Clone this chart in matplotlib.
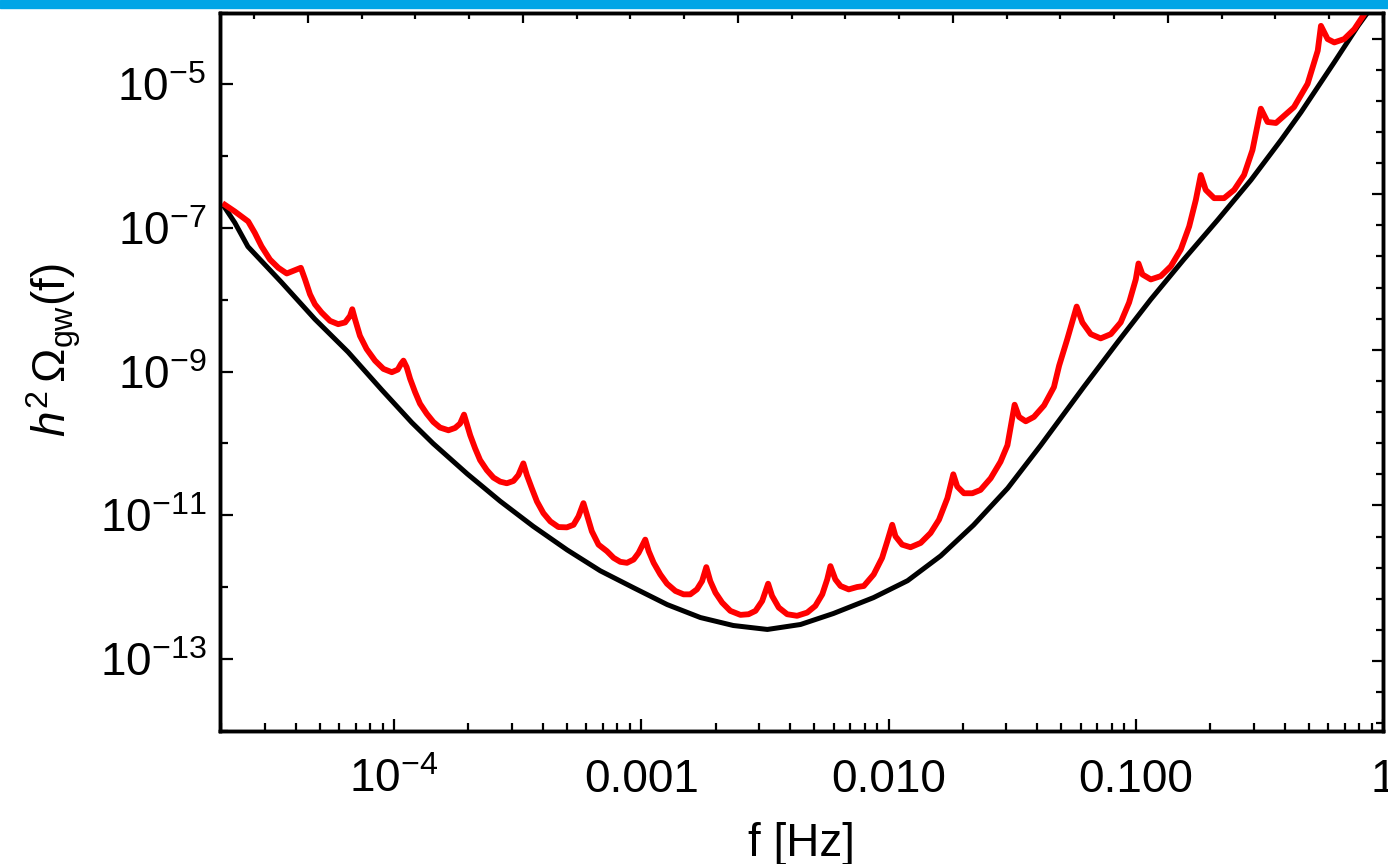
import numpy as np
import matplotlib
matplotlib.use('Agg')
import matplotlib.pyplot as plt
from matplotlib.patches import Rectangle
from matplotlib.ticker import FixedLocator, LogLocator, MultipleLocator, NullFormatter

plt.rcParams['font.family'] = ['Liberation Sans', 'DejaVu Sans']
plt.rcParams['mathtext.fontset'] = 'custom'
plt.rcParams['mathtext.rm'] = 'Liberation Sans'
plt.rcParams['mathtext.it'] = 'Liberation Sans:italic'
plt.rcParams['mathtext.bf'] = 'Liberation Sans:bold'

# smooth envelope (black): log10 f [Hz] and log10 h^2 Omega_gw
black_logf = [-4.684, -4.644, -4.591, -4.455, -4.320, -4.186, -4.050, -3.928, -3.842, -3.704,
              -3.571, -3.437, -3.300, -3.166, -3.032, -2.895, -2.761, -2.628, -2.490, -2.356,
              -2.223, -2.061, -1.923, -1.789, -1.656, -1.518, -1.385, -1.210, -1.073, -0.939,
              -0.806, -0.668, -0.534, -0.413, -0.332, -0.198, -0.101, -0.040]
black_logomega = [-6.717, -6.925, -7.258, -7.756, -8.269, -8.726, -9.252, -9.709, -10.000, -10.423,
                  -10.803, -11.154, -11.482, -11.773, -12.008, -12.244, -12.424, -12.535, -12.590, -12.521,
                  -12.368, -12.147, -11.911, -11.565, -11.136, -10.623, -10.028, -9.211, -8.587, -7.992,
                  -7.438, -6.884, -6.330, -5.776, -5.388, -4.695, -4.183, -3.892]

# spectrum with cusps (red)
red_logf = [-4.684, -4.644, -4.590, -4.563, -4.536, -4.502, -4.468, -4.434, -4.401, -4.377,
            -4.360, -4.340, -4.320, -4.293, -4.259, -4.226, -4.198, -4.178, -4.169, -4.158,
            -4.138, -4.111, -4.077, -4.043, -4.009, -3.985, -3.972, -3.962, -3.949, -3.935,
            -3.915, -3.895, -3.868, -3.841, -3.814, -3.780, -3.753, -3.733, -3.717, -3.706,
            -3.692, -3.672, -3.652, -3.625, -3.598, -3.571, -3.544, -3.517, -3.497, -3.477,
            -3.463, -3.443, -3.422, -3.396, -3.368, -3.335, -3.301, -3.274, -3.254, -3.234,
            -3.220, -3.200, -3.173, -3.139, -3.112, -3.085, -3.058, -3.031, -3.011, -2.984,
            -2.970, -2.950, -2.923, -2.896, -2.862, -2.829, -2.802, -2.775, -2.754, -2.737,
            -2.721, -2.700, -2.673, -2.640, -2.599, -2.566, -2.538, -2.511, -2.487, -2.471,
            -2.444, -2.410, -2.370, -2.329, -2.296, -2.268, -2.248, -2.235, -2.215, -2.194,
            -2.161, -2.127, -2.100, -2.060, -2.026, -2.005, -1.985, -1.972, -1.945, -1.911,
            -1.870, -1.830, -1.796, -1.762, -1.738, -1.722, -1.695, -1.661, -1.628, -1.587,
            -1.547, -1.519, -1.490, -1.472, -1.445, -1.412, -1.371, -1.331, -1.310, -1.277,
            -1.239, -1.216, -1.182, -1.142, -1.101, -1.061, -1.027, -1.000, -0.989, -0.973,
            -0.939, -0.899, -0.858, -0.818, -0.784, -0.757, -0.737, -0.717, -0.683, -0.643,
            -0.602, -0.562, -0.528, -0.494, -0.467, -0.433, -0.413, -0.360, -0.305, -0.264,
            -0.251, -0.224, -0.197, -0.157, -0.116, -0.076, -0.049]
red_logomega = [-6.676, -6.769, -6.907, -7.068, -7.254, -7.438, -7.553, -7.632, -7.586, -7.553,
                -7.715, -7.922, -8.061, -8.176, -8.292, -8.338, -8.314, -8.223, -8.130, -8.269,
                -8.500, -8.684, -8.846, -8.961, -9.007, -8.971, -8.892, -8.846, -8.938, -9.100,
                -9.284, -9.446, -9.585, -9.700, -9.778, -9.816, -9.783, -9.723, -9.598, -9.723,
                -9.885, -10.069, -10.231, -10.370, -10.475, -10.531, -10.554, -10.522, -10.439, -10.277,
                -10.439, -10.623, -10.808, -10.970, -11.085, -11.164, -11.168, -11.132, -11.015, -10.831,
                -10.993, -11.223, -11.409, -11.500, -11.593, -11.648, -11.662, -11.616, -11.524, -11.339,
                -11.500, -11.662, -11.824, -11.953, -12.054, -12.101, -12.101, -12.032, -11.916, -11.722,
                -11.916, -12.078, -12.216, -12.331, -12.387, -12.378, -12.331, -12.193, -11.953, -12.123,
                -12.285, -12.378, -12.400, -12.355, -12.262, -12.101, -11.893, -11.708, -11.893, -11.985,
                -12.032, -11.999, -11.985, -11.824, -11.593, -11.362, -11.132, -11.292, -11.409, -11.445,
                -11.385, -11.247, -11.062, -10.762, -10.429, -10.600, -10.693, -10.693, -10.647, -10.485,
                -10.254, -10.024, -9.460, -9.630, -9.691, -9.630, -9.470, -9.215, -8.916, -8.546,
                -8.093, -8.314, -8.477, -8.536, -8.477, -8.314, -8.037, -7.715, -7.493, -7.646,
                -7.715, -7.669, -7.531, -7.299, -6.977, -6.607, -6.260, -6.468, -6.583, -6.583,
                -6.468, -6.260, -5.914, -5.337, -5.522, -5.536, -5.475, -5.314, -4.990, -4.529,
                -4.183, -4.367, -4.414, -4.367, -4.229, -4.021, -3.837]

x_ticks = [1e-4, 1e-3, 1e-2, 1e-1, 1.0]
x_ticklabels = [r'$10^{-4}$', '0.001', '0.010', '0.100', '1']
y_ticks = [1e-13, 1e-11, 1e-9, 1e-7, 1e-5]
y_ticklabels = [r'$10^{-13}$', r'$10^{-11}$', r'$10^{-9}$', r'$10^{-7}$', r'$10^{-5}$']
y_minor = [1e-14, 1e-12, 1e-10, 1e-8, 1e-6, 1e-4]

fig = plt.figure(figsize=(13.88, 8.64), dpi=100)
fig.patches.append(Rectangle((0, 1 - 8 / 864), 1, 8 / 864, transform=fig.transFigure,
                             color='#00a5e6', zorder=0))
ax = fig.add_axes([0.1585, 0.1543, 0.8379, 0.8310])

ax.plot(10 ** np.array(black_logf), 10 ** np.array(black_logomega), color='black', lw=3.6,
        zorder=2, solid_joinstyle='round')
ax.plot(10 ** np.array(red_logf), 10 ** np.array(red_logomega), color='#ff0000', lw=4.2,
        zorder=3, solid_joinstyle='round')

ax.set_xscale('log')
ax.set_yscale('log')
ax.set_xlim(10 ** -4.704, 1.0)
ax.set_ylim(1e-14, 1e-4)

ax.set_xticks(x_ticks)
ax.set_xticklabels(x_ticklabels)
ax.xaxis.set_minor_locator(LogLocator(base=10, subs=np.arange(2, 10)))
ax.xaxis.set_minor_formatter(NullFormatter())
ax.set_yticks(y_ticks)
ax.set_yticklabels(y_ticklabels)
ax.yaxis.set_minor_locator(FixedLocator(y_minor))
ax.yaxis.set_minor_formatter(NullFormatter())

ax.tick_params(which='both', direction='in', top=False, right=False, width=1.6, labelsize=33)
ax.tick_params(which='major', length=9)
ax.tick_params(which='minor', length=5.5)
ax.tick_params(axis='x', pad=20)
ax.tick_params(axis='y', pad=10)

for s in ax.spines.values():
    s.set_linewidth(2.4)

ax.set_xlabel('f [Hz]', fontsize=33, labelpad=14)
ax.set_ylabel(r'$h^2\,\Omega_{\mathrm{gw}}\mathrm{(f)}$', fontsize=33)
ax.yaxis.set_label_coords(-0.118, 0.53)

# unlabeled frame ticks on top and right
axt = ax.twiny()
axt.set_xlim(-0.409, 5.0)
axt.xaxis.set_major_locator(MultipleLocator(1))
axt.xaxis.set_minor_locator(MultipleLocator(0.25))
axt.tick_params(which='both', direction='in', labeltop=False, width=1.6)
axt.tick_params(which='major', length=7)
axt.tick_params(which='minor', length=4)
axr = ax.twinx()
axr.set_ylim(-0.448, 4.167)
axr.yaxis.set_major_locator(MultipleLocator(1))
axr.yaxis.set_minor_locator(MultipleLocator(0.2))
axr.tick_params(which='both', direction='in', labelright=False, width=1.6)
axr.tick_params(which='major', length=8)
axr.tick_params(which='minor', length=5)
for a in (axt, axr):
    for s in a.spines.values():
        s.set_linewidth(2.4)

fig.savefig('out.png', dpi=100)
